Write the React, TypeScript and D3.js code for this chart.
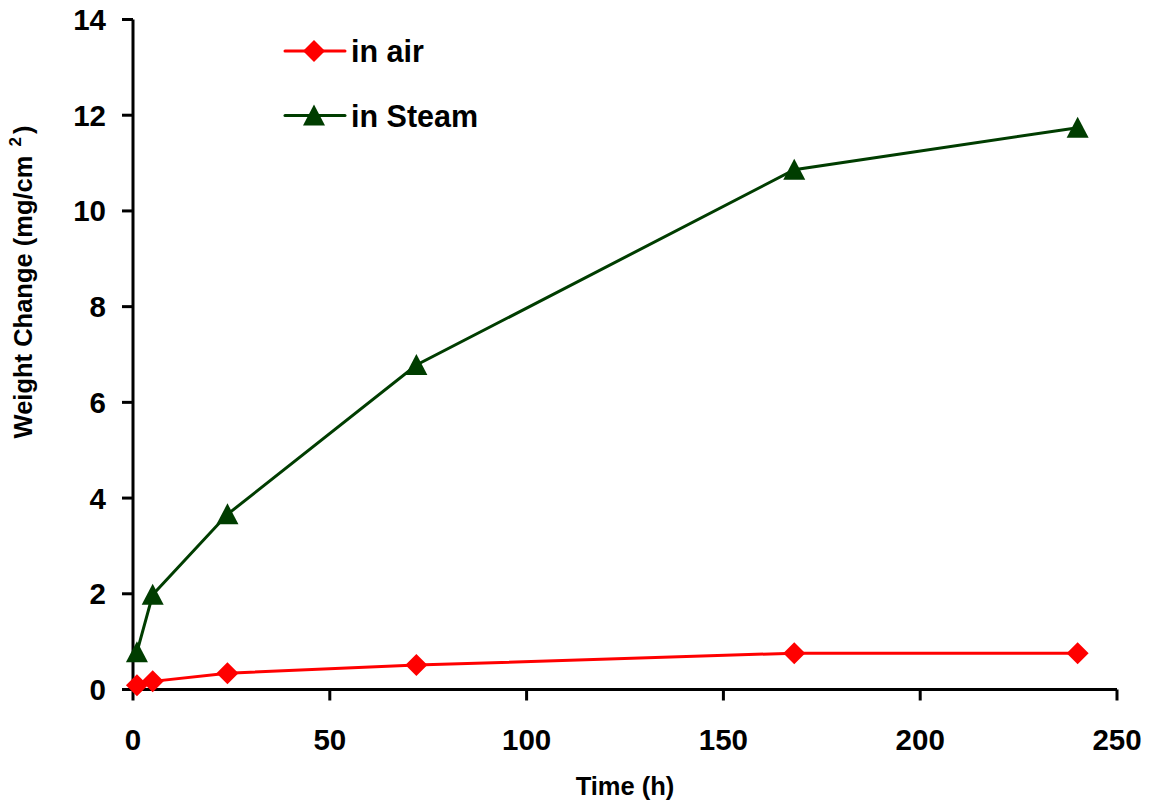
import React from "react";
import * as d3 from "d3";

const hours = [1, 5, 24, 72, 168, 240];
const airValues = [0.09, 0.17, 0.34, 0.51, 0.76, 0.76];
const steamValues = [0.78, 1.98, 3.66, 6.78, 10.86, 11.74];
const xTicks = [0, 50, 100, 150, 200, 250];
const yTicks = [0, 2, 4, 6, 8, 10, 12, 14];

const width = 1158;
const height = 807;
const margin = { left: 133, right: 41, top: 19.5, bottom: 117.5 };
const font = "'Liberation Sans', Arial, sans-serif";

const App = () => {
  const x = d3.scaleLinear().domain([0, 250]).range([margin.left, width - margin.right]);
  const y = d3.scaleLinear().domain([0, 14]).range([height - margin.bottom, margin.top]);

  const line = d3
    .line<number>()
    .x((_, i) => x(hours[i]))
    .y((d) => y(d));

  const diamond = "M0,-11L11,0L0,11L-11,0Z";
  const triangle = "M0,-11L11,10L-11,10Z";

  const series = [
    { name: "in air", values: airValues, color: "#ff0000", marker: diamond, ly: 51 },
    { name: "in Steam", values: steamValues, color: "#003d00", marker: triangle, ly: 115.5 },
  ];

  const y0 = y(0);

  return (
    <svg width={width} height={height} style={{ position: "absolute", left: 0, top: 0, background: "#fff" }} fontFamily={font}>
      {/* axes */}
      <line x1={x(0)} x2={x(0)} y1={y(14)} y2={y0} stroke="#000" strokeWidth={3} />
      <line x1={x(0)} x2={x(250)} y1={y0} y2={y0} stroke="#000" strokeWidth={3} />
      {yTicks.map((t) => (
        <g key={"y" + t}>
          <line x1={x(0) - 11} x2={x(0)} y1={y(t)} y2={y(t)} stroke="#000" strokeWidth={3} />
          <text x={106} y={y(t) + 10.5} textAnchor="end" fontSize={29.5} fontWeight="bold">
            {t}
          </text>
        </g>
      ))}
      {xTicks.map((t) => (
        <g key={"x" + t}>
          <line x1={x(t)} x2={x(t)} y1={y0} y2={y0 + 11} stroke="#000" strokeWidth={3} />
          <text x={x(t)} y={750} textAnchor="middle" fontSize={29.5} fontWeight="bold">
            {t}
          </text>
        </g>
      ))}
      <text x={625} y={795} textAnchor="middle" fontSize={25.5} fontWeight="bold">
        Time (h)
      </text>
      <text transform="translate(32,282) rotate(-90)" textAnchor="middle" fontSize={25.5} fontWeight="bold">
        Weight Change (mg/cm
        <tspan dx={9} dy={-11} fontSize={17}>2</tspan>
        <tspan dx={3} dy={11}>)</tspan>
      </text>

      {/* series */}
      {series.map((s) => (
        <g key={s.name}>
          <path d={line(s.values)!} fill="none" stroke={s.color} strokeWidth={3} />
          {s.values.map((v, i) => (
            <path key={i} d={s.marker} transform={`translate(${x(hours[i])},${y(v)})`} fill={s.color} />
          ))}
          <line x1={285} x2={345} y1={s.ly} y2={s.ly} stroke={s.color} strokeWidth={3} strokeLinecap="round" />
          <path d={s.marker} transform={`translate(314,${s.ly})`} fill={s.color} />
          <text x={351} y={s.ly + 11} fontSize={30.5} fontWeight="bold">
            {s.name}
          </text>
        </g>
      ))}
    </svg>
  );
};

export default App;
